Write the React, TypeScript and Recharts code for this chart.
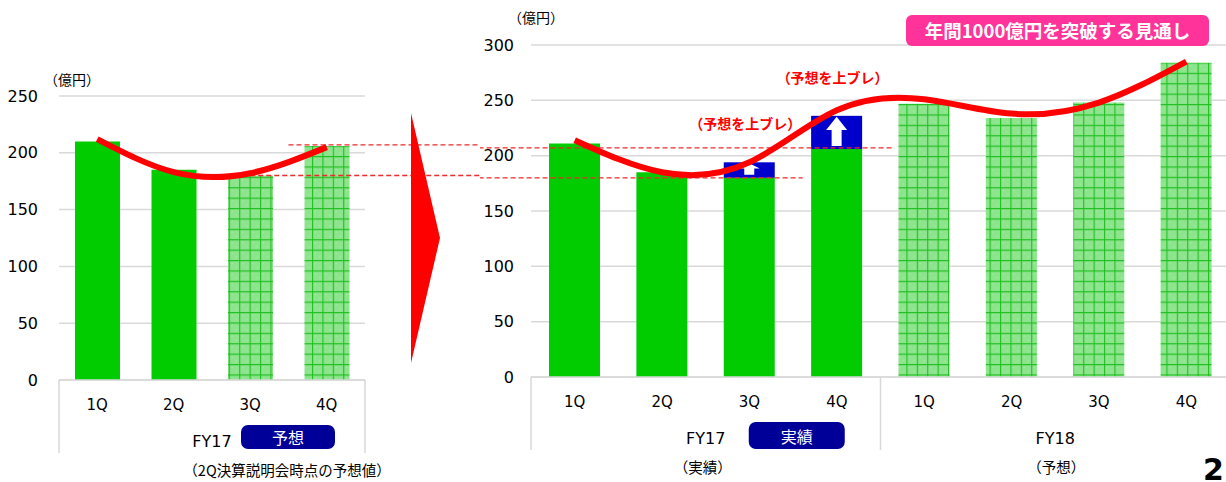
import { Bar, CartesianGrid, ComposedChart, LabelList, Line, ReferenceLine, XAxis, YAxis } from 'recharts'

const NUM_FONT = "'DejaVu Sans', 'Noto Sans CJK JP', sans-serif"
const JP_FONT = "'Noto Sans CJK JP', 'DejaVu Sans', sans-serif"
const GREEN = '#00cc00'
const BLUE = '#0000cc'
const NAVY = '#000099'
const RED = '#ff0000'
const DASH_RED = '#f02828'
const AXIS_GREY = '#d9d9d9'

// left: FY17 outlook as of the 2Q results briefing
const prevQuarters = ['1Q', '2Q', '3Q', '4Q']
const prevActual = [210, 185, null, null]
const prevForecast = [null, null, 180, 206]
const prevTrend = [212, 183, 182, 205]
const prevTicks = [0, 50, 100, 150, 200, 250]

// right: FY17 actual, FY18 outlook
const nowKeys = ['FY17-1Q', 'FY17-2Q', 'FY17-3Q', 'FY17-4Q', 'FY18-1Q', 'FY18-2Q', 'FY18-3Q', 'FY18-4Q']
const nowBase = [211, 185, 180, 206, null, null, null, null]
const nowUpside = [null, null, 14, 30, null, null, null, null]
const nowForecast = [null, null, null, null, 247, 234, 248, 284]
const nowTrend = [214, 185, 194, 241, 251, 238, 248, 285]
const nowTicks = [0, 50, 100, 150, 200, 250, 300]

// forecast levels carried over (dashed)
const prevForecast3Q = 180
const prevForecast4Q = 207

const upsideText = '（予想を上ブレ）'
const headline = '年間1000億円を突破する見通し'
const unitText = '（億円）'

type Group = { at: number; fy: string; badge?: string; badgeDx?: number; badgeW?: number; note?: string; noteDx?: number }

const prevGroups: Group[] = [
  { at: 2, fy: 'FY17', badge: '予想', badgeDx: 29, badgeW: 94, note: '（2Q決算説明会時点の予想値）', noteDx: 75 },
]
const nowGroups: Group[] = [
  { at: 2, fy: 'FY17', badge: '実績', badgeDx: 43, badgeW: 96, note: '（実績）', noteDx: -3 },
  { at: 6, fy: 'FY18', note: '（予想）', noteDx: 1 },
]

const prevRows = prevQuarters.map((q, i) => ({
  key: q,
  actual: prevActual[i],
  forecast: prevForecast[i],
  trend: prevTrend[i],
}))

const nowRows = nowKeys.map((k, i) => ({
  key: k,
  base: nowBase[i],
  upside: nowUpside[i],
  forecast: nowForecast[i],
  trend: nowTrend[i],
}))

// group axis is a plain number scale 0..n over the plot; no series reads it
const groupKey = () => 0

function makeGroupTick(groups: Group[], lift: number, badgeH: number) {
  return function GroupTick(props: any) {
    const { x, y, payload } = props
    const g = groups.find((gr) => gr.at === payload.value)
    if (!g) return <line x1={x} x2={x} y1={y - lift} y2={y + 33} stroke={AXIS_GREY} strokeWidth={1.5} />
    const bx = x + (g.badgeDx ?? 0)
    const bw = g.badgeW ?? 94
    return (
      <g>
        <text x={x} y={y + 21} textAnchor="middle" dominantBaseline="central" fontSize={16} fontFamily={NUM_FONT} fill="#000">
          {g.fy}
        </text>
        {g.badge && (
          <g>
            <rect x={bx} y={y + 5} width={bw} height={badgeH} rx={7} fill={NAVY} />
            <text x={bx + bw / 2} y={y + 5 + badgeH / 2} textAnchor="middle" dominantBaseline="central" fontSize={16} fontFamily={JP_FONT} fill="#fff">
              {g.badge}
            </text>
          </g>
        )}
        {g.note && (
          <text x={x + (g.noteDx ?? 0)} y={y + 49} textAnchor="middle" dominantBaseline="central" fontSize={14.5} fontFamily={JP_FONT} fill="#000">
            {g.note}
          </text>
        )}
      </g>
    )
  }
}

function UpsideShape(props: any) {
  const { x, y, width, height } = props
  if (!height || height <= 0) return null
  const cx = x + width / 2
  const top = y + 1
  const bottom = y + height - 3
  const headH = Math.min(15, (bottom - top) * 0.45)
  const pts = [
    [cx, top],
    [cx + 10.5, top + headH],
    [cx + 5, top + headH],
    [cx + 5, bottom],
    [cx - 5, bottom],
    [cx - 5, top + headH],
    [cx - 10.5, top + headH],
  ]
    .map((p) => p.join(','))
    .join(' ')
  return (
    <g>
      <rect x={x} y={y} width={width} height={height} fill={BLUE} />
      <polygon points={pts} fill="#fff" />
    </g>
  )
}

function UpsideLabel(props: any) {
  const { x, y, width, value } = props
  if (!value) return null
  return (
    <text x={x + width / 2 - 4} y={y - 39} textAnchor="middle" dominantBaseline="central" fontSize={14} fontWeight="bold" fontFamily={JP_FONT} fill={RED}>
      {upsideText}
    </text>
  )
}

function GridPattern({ id }: { id: string }) {
  return (
    <defs>
      <pattern id={id} width="10.4" height="10.4" patternUnits="userSpaceOnUse">
        <rect width="10.4" height="10.4" fill="#8ce48c" />
        <rect x="3" y="3" width="1" height="1" fill="#b5f0b5" />
        <rect x="7" y="7" width="1" height="1" fill="#b5f0b5" />
        <path d="M0 0.5H10.4 M0.5 0V10.4" stroke="#22c022" strokeWidth="1.2" />
      </pattern>
    </defs>
  )
}

const yTick = { fill: '#000', fontSize: 16, fontFamily: NUM_FONT }
const qTick = { fill: '#000', fontSize: 15, fontFamily: NUM_FONT }
const dashProps = {
  stroke: DASH_RED,
  strokeOpacity: 1,
  strokeWidth: 1.3,
  strokeDasharray: '5 3',
  ifOverflow: 'visible' as const,
}

function PrevChart() {
  return (
    <ComposedChart width={480} height={482} data={prevRows} margin={{ top: 96, right: 115, bottom: 0, left: 0 }}>
      <GridPattern id="hatchPrev" />
      <CartesianGrid xAxisId="a" vertical={false} stroke={AXIS_GREY} strokeWidth={1.5} />
      <XAxis
        xAxisId="b"
        type="number"
        dataKey={groupKey}
        domain={[0, 4]}
        allowDataOverflow
        ticks={[0, 2, 4]}
        height={62}
        axisLine={false}
        tickLine={false}
        tickSize={0}
        tickMargin={0}
        interval={0}
        tick={makeGroupTick(prevGroups, 40, 24)}
      />
      <XAxis xAxisId="a" dataKey="key" height={40} tick={qTick} tickLine={false} tickSize={0} tickMargin={19} axisLine={{ stroke: AXIS_GREY, strokeWidth: 1.5 }} />
      <YAxis domain={[0, 250]} ticks={prevTicks} width={59} tick={yTick} axisLine={false} tickLine={false} tickSize={0} tickMargin={21} />
      <Bar xAxisId="a" dataKey="actual" stackId="s" fill={GREEN} barSize={45} isAnimationActive={false} />
      <Bar xAxisId="a" dataKey="forecast" stackId="s" fill="url(#hatchPrev)" barSize={45} isAnimationActive={false} />
      <ReferenceLine xAxisId="b" segment={[{ x: 3.0, y: prevForecast4Q }, { x: 5.7, y: prevForecast4Q }]} {...dashProps} />
      <ReferenceLine xAxisId="b" segment={[{ x: 2.5, y: prevForecast3Q }, { x: 5.7, y: prevForecast3Q }]} {...dashProps} />
      <Line xAxisId="a" dataKey="trend" type="natural" stroke={RED} strokeWidth={6} dot={false} activeDot={false} isAnimationActive={false} />
    </ComposedChart>
  )
}

function NowChart() {
  return (
    <ComposedChart width={750} height={482} data={nowRows} margin={{ top: 45, right: 0, bottom: 0, left: 0 }}>
      <GridPattern id="hatchNow" />
      <CartesianGrid xAxisId="a" vertical={false} stroke={AXIS_GREY} strokeWidth={1.5} />
      <XAxis
        xAxisId="b"
        type="number"
        dataKey={groupKey}
        domain={[0, 8]}
        allowDataOverflow
        ticks={[0, 2, 4, 6, 8]}
        height={65}
        axisLine={false}
        tickLine={false}
        tickSize={0}
        tickMargin={0}
        interval={0}
        tick={makeGroupTick(nowGroups, 40, 27)}
      />
      <XAxis
        xAxisId="a"
        dataKey="key"
        height={40}
        tick={qTick}
        tickFormatter={(v: string) => v.split('-')[1]}
        tickLine={false}
        tickSize={0}
        tickMargin={19}
        axisLine={{ stroke: AXIS_GREY, strokeWidth: 1.5 }}
        interval={0}
      />
      <YAxis domain={[0, 300]} ticks={nowTicks} width={51} tick={yTick} axisLine={false} tickLine={false} tickSize={0} tickMargin={17} />
      <Bar xAxisId="a" dataKey="base" stackId="s" fill={GREEN} barSize={51} isAnimationActive={false} />
      <Bar xAxisId="a" dataKey="upside" stackId="s" fill={BLUE} barSize={51} shape={UpsideShape} isAnimationActive={false}>
        <LabelList dataKey="upside" content={UpsideLabel} />
      </Bar>
      <Bar xAxisId="a" dataKey="forecast" stackId="s" fill="url(#hatchNow)" barSize={51} isAnimationActive={false} />
      <ReferenceLine xAxisId="b" segment={[{ x: -0.6, y: prevForecast4Q }, { x: 4.14, y: prevForecast4Q }]} {...dashProps} />
      <ReferenceLine xAxisId="b" segment={[{ x: -0.6, y: prevForecast3Q }, { x: 3.11, y: prevForecast3Q }]} {...dashProps} />
      <Line xAxisId="a" dataKey="trend" type="natural" stroke={RED} strokeWidth={6} dot={false} activeDot={false} isAnimationActive={false} />
    </ComposedChart>
  )
}

export default function App() {
  return (
    <div style={{ position: 'absolute', left: 0, top: 0, width: 1226, height: 482, overflow: 'hidden', background: '#fff', fontFamily: JP_FONT }}>
      <div style={{ position: 'absolute', left: 0, top: 0 }}>
        <PrevChart />
      </div>
      <div style={{ position: 'absolute', left: 480, top: 0 }}>
        <NowChart />
      </div>
      <div style={{ position: 'absolute', left: 44, top: 70, fontSize: 14, lineHeight: '18px', color: '#000' }}>{unitText}</div>
      <div style={{ position: 'absolute', left: 508, top: 8, fontSize: 14, lineHeight: '18px', color: '#000' }}>{unitText}</div>
      <div
        style={{
          position: 'absolute',
          left: 906,
          top: 15,
          width: 303,
          height: 31,
          borderRadius: 6,
          background: '#ff3399',
          color: '#fff',
          fontWeight: 'bold',
          fontSize: 18.5,
          lineHeight: '31px',
          textAlign: 'center',
        }}
      >
        {headline}
      </div>
      <svg style={{ position: 'absolute', left: 0, top: 0, pointerEvents: 'none' }} width={1226} height={482}>
        <polygon points="411,113 440,238 411,363" fill={RED} />
      </svg>
      <div style={{ position: 'absolute', left: 1203, top: 450, fontSize: 30, fontWeight: 'bold', fontFamily: NUM_FONT, color: '#000', lineHeight: '40px' }}>
        2
      </div>
    </div>
  )
}
